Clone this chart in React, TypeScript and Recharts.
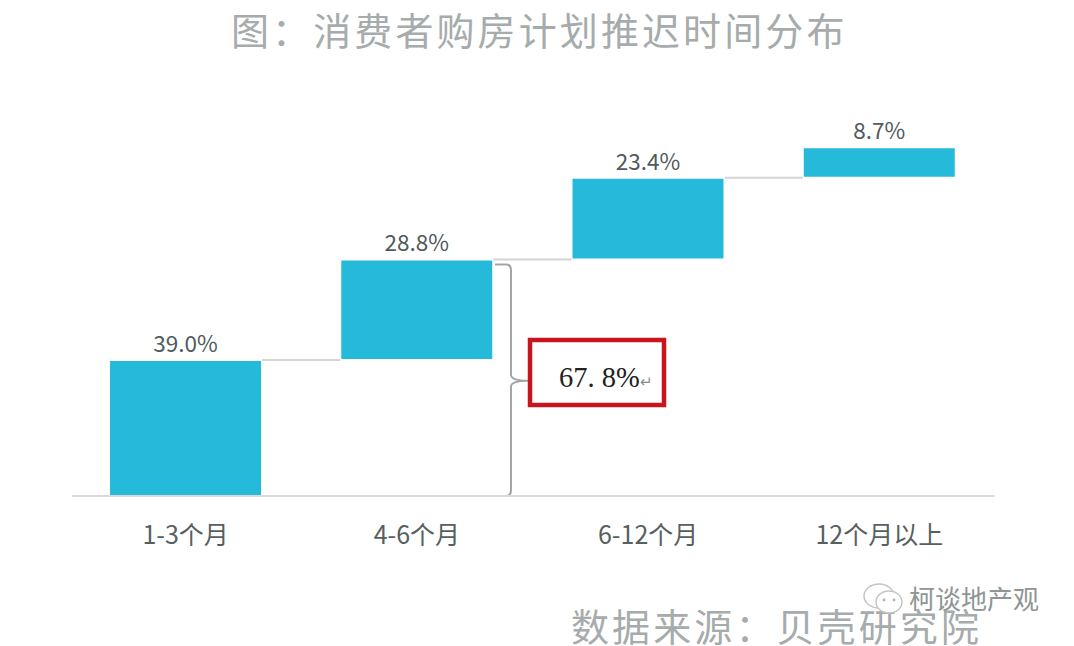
import { BarChart, Bar, XAxis, YAxis, LabelList, ReferenceLine, ReferenceArea } from "recharts";

const categories = ["1-3个月", "4-6个月", "6-12个月", "12个月以上"];
const shares = [39.0, 28.8, 23.4, 8.7];
const offsets = [0, 39.0, 67.8, 91.2];
const bracketTotal = 67.8;
const bracketLabel = "67. 8%";
const bracketMark = "↵";

const rows = categories.map((category, i) => ({
  category,
  offset: offsets[i],
  share: shares[i],
}));

const cjk = '"Noto Sans CJK SC", sans-serif';
const barWidth = 153;

// brace + red box, positioned from the y range the ReferenceArea hands over
function Bracket({ y, height }: any) {
  const top = y;
  const bottom = y + height;
  const mid = top + height / 2 + 3;
  const bx = 511;
  return (
    <g>
      <path
        d={`M495 ${top + 5} H506 Q${bx} ${top + 5} ${bx} ${top + 11} V${mid - 6} Q${bx} ${mid} 528 ${mid} Q${bx} ${mid} ${bx} ${mid + 6} V${bottom - 6} Q${bx} ${bottom} 506 ${bottom} H492`}
        fill="none"
        stroke="#a3a6a8"
        strokeWidth={2}
      />
      <rect x={530} y={340} width={134} height={65} fill="#fff" stroke="#c8141c" strokeWidth={4.5} />
      <text x={559} y={387} fontFamily='"Liberation Serif", serif' fontSize={28.5} fill="#222">
        {bracketLabel}
        <tspan fontSize={15} fill="#8a8a8a">{bracketMark}</tspan>
      </text>
    </g>
  );
}

// connector only spans the gap between two neighbouring bars
function Connector({ x1, x2, y1 }: any) {
  return <line x1={x1 + barWidth / 2} x2={x2 - barWidth / 2} y1={y1} y2={y1} stroke="#d4d4d4" strokeWidth={2} />;
}

// baseline starts a little right of the shifted plot area
function Baseline({ x1, x2, y1 }: any) {
  return <line x1={x1 + 2} x2={x2} y1={y1} y2={y1} stroke="#d9d9d9" strokeWidth={2} />;
}

const headingStyle: React.CSSProperties = {
  position: "absolute",
  fontSize: 38,
  lineHeight: "38px",
  letterSpacing: 3.1,
  color: "#a6abab",
  whiteSpace: "nowrap",
};

export default function App() {
  return (
    <div style={{ position: "absolute", left: 0, top: 0, width: 1074, height: 646, background: "#fff", overflow: "hidden", fontFamily: cjk }}>
      <div style={{ ...headingStyle, left: 231, top: 10 }}>图：消费者购房计划推迟时间分布</div>

      <BarChart
        width={1074}
        height={646}
        data={rows}
        margin={{ top: 147, right: 79, bottom: 90, left: 70 }}
        barSize={barWidth}
      >
        <XAxis
          dataKey="category"
          axisLine={false}
          tickLine={false}
          height={60}
          tickMargin={24}
          tick={{ fontSize: 25, fill: "#56605f", fontFamily: cjk }}
        />
        <YAxis hide domain={[0, 100]} />
        <ReferenceLine y={0} shape={<Baseline />} />
        {categories.slice(0, -1).map((c, i) => (
          <ReferenceLine
            key={c}
            segment={[
              { x: c, y: offsets[i + 1] },
              { x: categories[i + 1], y: offsets[i + 1] },
            ]}
            shape={<Connector />}
          />
        ))}
        <Bar dataKey="offset" stackId="a" fill="none" isAnimationActive={false} />
        <Bar dataKey="share" stackId="a" fill="#25b9da" stroke="#fff" strokeWidth={2} isAnimationActive={false}>
          <LabelList
            dataKey="share"
            position="top"
            offset={8}
            formatter={(v: any) => `${Number(v).toFixed(1)}%`}
            style={{ fontSize: 22.5, fill: "#4f5b5c", fontFamily: cjk }}
          />
        </Bar>
        <ReferenceArea y1={0} y2={bracketTotal} fill="none" stroke="none" shape={<Bracket />} />
      </BarChart>

      <div style={{ ...headingStyle, left: 571, top: 606 }}>数据来源：贝壳研究院</div>
      <svg style={{ position: "absolute", left: 860, top: 582 }} width={50} height={36}>
        <ellipse cx={19} cy={14} rx={15} ry={12} fill="#fff" stroke="#c4c4c4" strokeWidth={1.5} />
        <ellipse cx={29} cy={20} rx={13} ry={11} fill="#fff" stroke="#c4c4c4" strokeWidth={1.5} />
        <circle cx={24} cy={18} r={1.4} fill="#b0b0b0" />
        <circle cx={34} cy={18} r={1.4} fill="#b0b0b0" />
      </svg>
      <div style={{ position: "absolute", left: 909, top: 584, fontSize: 26, lineHeight: "28px", color: "#8f9494", whiteSpace: "nowrap" }}>
        柯谈地产观
      </div>
    </div>
  );
}
